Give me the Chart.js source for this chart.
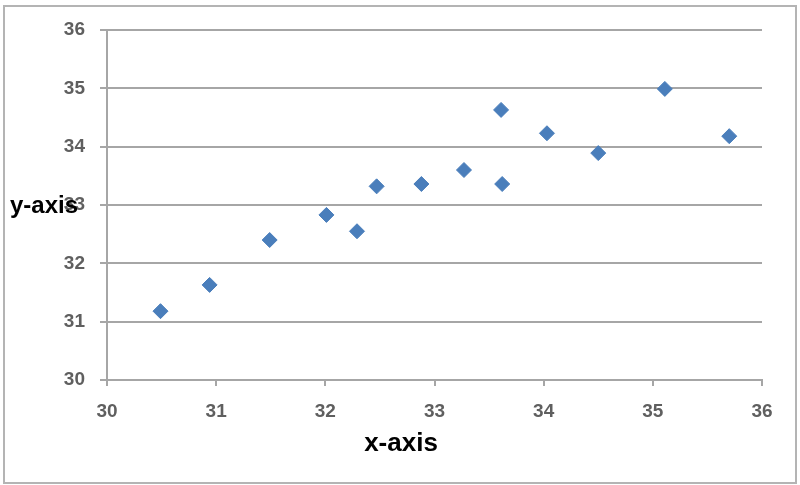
<!DOCTYPE html>
<html>
<head>
<meta charset="utf-8">
<script src="https://cdn.jsdelivr.net/npm/chart.js@4/dist/chart.umd.min.js"></script>
<style>
  html, body { margin: 0; padding: 0; background: #fff; }
  #wrap { position: relative; width: 800px; height: 485px; }
</style>
</head>
<body>
<div id="wrap"><canvas id="scatterChart" width="800" height="485"></canvas></div>
<script>
// values
var xValues = [30.49, 30.94, 31.49, 32.01, 32.29, 32.47, 32.88, 33.27, 33.61, 33.62, 34.03, 34.50, 35.11, 35.70];
var yValues = [31.18, 31.63, 32.40, 32.83, 32.55, 33.32, 33.36, 33.60, 34.63, 33.36, 34.23, 33.89, 34.99, 34.18];
var xTicks = [30, 31, 32, 33, 34, 35, 36];
var yTicks = [30, 31, 32, 33, 34, 35, 36];
var xTitle = "x-axis";
var yTitle = "y-axis";

var points = [];
for (var k = 0; k < xValues.length; k++) {
	points.push({ x: xValues[k], y: yValues[k] });
}

var gridColor = "#a6a6a6";
var tickFont = { family: "Liberation Sans", size: 19, weight: "bold" };

// frame around the picture and the two axis titles
var extras = {
	id: "extras",
	afterDraw: function(chart) {
		var ctx = chart.ctx;
		ctx.save();
		ctx.strokeStyle = "#b4b4b4";
		ctx.lineWidth = 2;
		ctx.strokeRect(4, 6, 792, 477);

		ctx.fillStyle = "#000";
		ctx.font = "bold 26px 'Liberation Sans'";
		ctx.textAlign = "center";
		ctx.textBaseline = "alphabetic";
		ctx.fillText(xTitle, 401, 451);

		ctx.font = "bold 24px 'Liberation Sans'";
		ctx.textAlign = "left";
		ctx.fillText(yTitle, 10, 213);
		ctx.restore();
	}
};

var chart = new Chart(document.getElementById("scatterChart").getContext("2d"), {
	type: "scatter",
	data: {
		datasets: [{
			data: points,
			pointStyle: "rectRot",
			pointRadius: 7.5,
			borderWidth: 1,
			backgroundColor: "#4a7ebb",
			borderColor: "#4a7ebb"
		}]
	},
	options: {
		responsive: false,
		animation: false,
		layout: { padding: { left: 0, top: 30, right: 38, bottom: 0 } },
		plugins: {
			legend: { display: false },
			tooltip: { enabled: false }
		},
		scales: {
			x: {
				type: "linear",
				min: xTicks[0],
				max: xTicks[xTicks.length - 1],
				afterBuildTicks: function(s) { s.ticks = xTicks.map(function(v) { return { value: v }; }); },
				afterFit: function(s) { s.height = 105; },
				grid: { drawOnChartArea: false, drawTicks: true, tickLength: 6, color: gridColor, lineWidth: 2 },
				border: { display: true, color: gridColor, width: 2 },
				ticks: { color: "#5f5f5f", font: tickFont, padding: 14, maxRotation: 0 }
			},
			y: {
				type: "linear",
				min: yTicks[0],
				max: yTicks[yTicks.length - 1],
				afterBuildTicks: function(s) { s.ticks = yTicks.map(function(v) { return { value: v }; }); },
				afterFit: function(s) { s.width = 107; },
				grid: { drawOnChartArea: true, drawTicks: true, tickLength: 7, color: gridColor, lineWidth: 2 },
				border: { display: true, color: gridColor, width: 2 },
				ticks: { color: "#5f5f5f", font: tickFont, padding: 15 }
			}
		}
	},
	plugins: [extras]
});
</script>
</body>
</html>
